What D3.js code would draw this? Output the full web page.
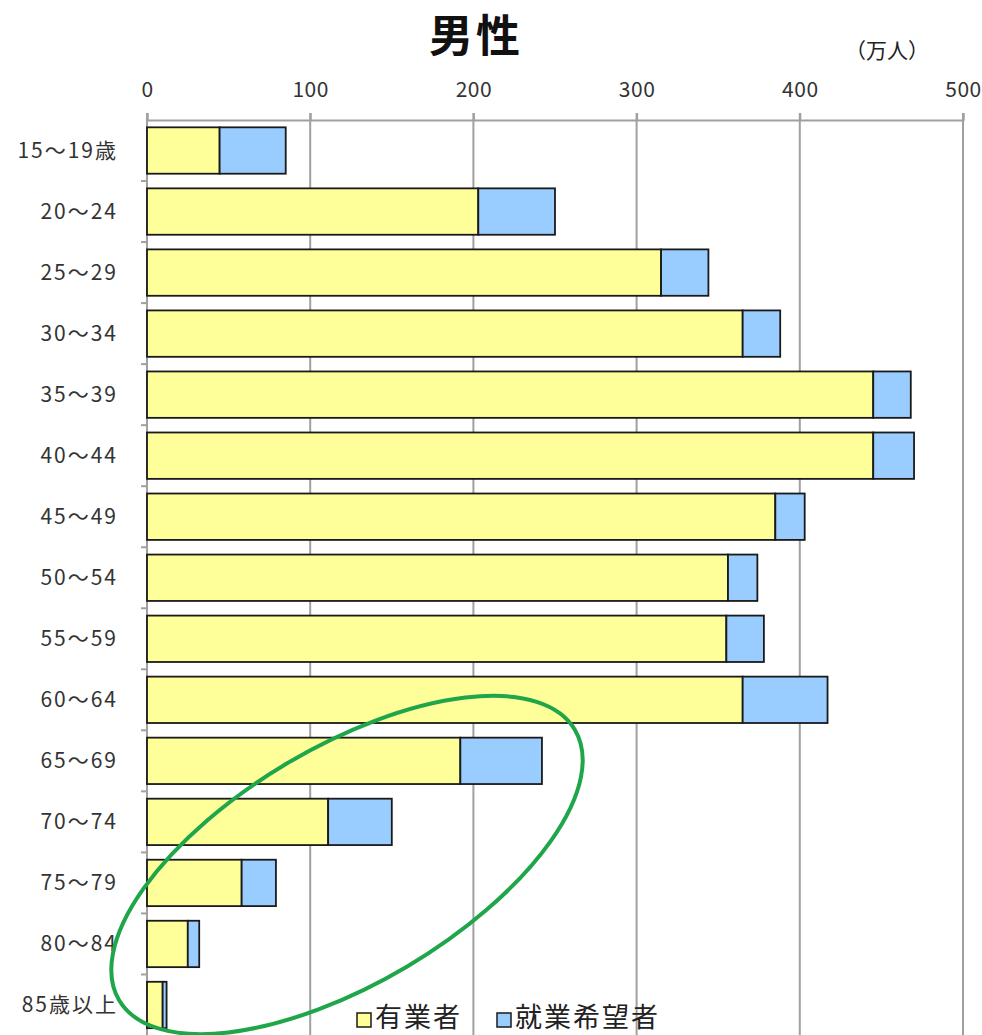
<!DOCTYPE html>
<html>
<head>
<meta charset="utf-8">
<script src="https://cdn.jsdelivr.net/npm/d3@7"></script>
<style>
  body { margin: 0; background: #fff; }
  text { font-family: "Noto Sans CJK JP", "Noto Sans", sans-serif; }
</style>
</head>
<body>
<div id="chart"></div>
<script>
  var categories = ["15～19歳", "20～24", "25～29", "30～34", "35～39", "40～44", "45～49",
    "50～54", "55～59", "60～64", "65～69", "70～74", "75～79", "80～84", "85歳以上"];
  var employed = [44.5, 203, 315, 365, 445, 445, 385, 356, 355, 365, 192, 111, 58, 25, 9.6];
  var seeking  = [40.5, 47, 29, 23, 23, 25, 18, 18, 23, 52, 50, 39, 21, 7, 2.4];
  var seriesNames = ["有業者", "就業希望者"];
  var xTicks = [0, 100, 200, 300, 400, 500];

  var width = 982;
  var height = 1035;
  var colors = ["#ffff99", "#99ccff"];

  /* table for d3.stack */
  var table = categories.map(function(c, i) {
    return { cat: c, "有業者": employed[i], "就業希望者": seeking[i] };
  });
  var stacked = d3.stack().keys(seriesNames)(table);

  /* Scales */
  var xScale = d3.scaleLinear()
    .domain([0, 500])
    .range([147, 963]);

  var yScale = d3.scaleBand()
    .domain(categories)
    .range([120, 1035.5])
    .paddingInner(0.24)
    .paddingOuter(0.12);

  var svg = d3.select("#chart").append("svg")
    .attr("width", width)
    .attr("height", height);

  /* Gridlines */
  svg.append("g")
    .selectAll("line")
    .data(xTicks).enter()
    .append("line")
    .attr("x1", d => xScale(d))
    .attr("x2", d => xScale(d))
    .attr("y1", 113)
    .attr("y2", height)
    .attr("stroke", "#a0a0a0")
    .attr("stroke-width", 2);

  /* Top axis */
  var xAxis = d3.axisTop(xScale).tickValues(xTicks).tickSize(7).tickPadding(16);
  var gx = svg.append("g")
    .attr("transform", "translate(0,120)")
    .call(xAxis);
  gx.select(".domain").attr("stroke", "#a0a0a0").attr("stroke-width", 2);
  gx.selectAll(".tick line").attr("stroke", "#a0a0a0").attr("stroke-width", 2);
  gx.selectAll(".tick text")
    .attr("fill", "#333")
    .style("font-size", "21px")
    .style("letter-spacing", "0.5px")
    .style("font-family", "'Noto Sans CJK JP', sans-serif");

  /* Left axis, ticks on band edges */
  var step = yScale.step();
  var edges = d3.range(1, categories.length).map(i => yScale(categories[i]) - yScale.paddingInner() * step / 2);
  svg.append("line")
    .attr("x1", xScale(0)).attr("x2", xScale(0))
    .attr("y1", 119).attr("y2", height)
    .attr("stroke", "#a0a0a0").attr("stroke-width", 2);
  svg.append("g")
    .selectAll("line")
    .data(edges).enter()
    .append("line")
    .attr("x1", xScale(0) - 6).attr("x2", xScale(0))
    .attr("y1", d => d).attr("y2", d => d)
    .attr("stroke", "#a0a0a0").attr("stroke-width", 2);

  svg.append("g")
    .selectAll("text")
    .data(categories).enter()
    .append("text")
    .attr("x", 118)
    .attr("y", d => yScale(d) + yScale.bandwidth() / 2)
    .attr("dy", "0.35em")
    .attr("text-anchor", "end")
    .attr("fill", "#333")
    .style("font-size", "21px")
    .style("letter-spacing", "2px")
    .text(d => d);

  /* Bars */
  svg.append("g")
    .selectAll("g")
    .data(stacked).enter()
    .append("g")
    .attr("fill", (d, i) => colors[i])
    .selectAll("rect")
    .data(d => d).enter()
    .append("rect")
    .attr("x", d => xScale(d[0]))
    .attr("y", d => yScale(d.data.cat))
    .attr("width", d => xScale(d[1]) - xScale(d[0]))
    .attr("height", yScale.bandwidth())
    .attr("stroke", "#1a1a1a")
    .attr("stroke-width", 1.8);

  /* Title */
  svg.append("text")
    .attr("x", 476)
    .attr("y", 52)
    .attr("text-anchor", "middle")
    .attr("fill", "#111")
    .style("font-size", "44px")
    .style("font-weight", "bold")
    .style("letter-spacing", "3px")
    .text("男性");

  svg.append("text")
    .attr("x", 845)
    .attr("y", 58)
    .attr("fill", "#222")
    .style("font-size", "21px")
    .text("（万人）");

  /* Legend */
  var legendX = [357, 497];
  var legend = svg.append("g")
    .selectAll("g")
    .data(seriesNames).enter()
    .append("g")
    .attr("transform", (d, i) => `translate(${legendX[i]}, 1013)`);
  legend.append("rect")
    .attr("width", 14).attr("height", 14)
    .attr("fill", (d, i) => colors[i])
    .attr("stroke", "#1a1a1a").attr("stroke-width", 1.5);
  legend.append("text")
    .attr("x", 18)
    .attr("y", 14)
    .attr("fill", "#222")
    .style("font-size", "27px")
    .style("letter-spacing", "2px")
    .text(d => d);

  /* Highlight ellipse */
  svg.append("ellipse")
    .attr("cx", 347).attr("cy", 865)
    .attr("rx", 265).attr("ry", 118)
    .attr("transform", "rotate(-30.7, 347, 865)")
    .attr("fill", "none")
    .attr("stroke", "#1fa64a")
    .attr("stroke-width", 4);
</script>
</body>
</html>
